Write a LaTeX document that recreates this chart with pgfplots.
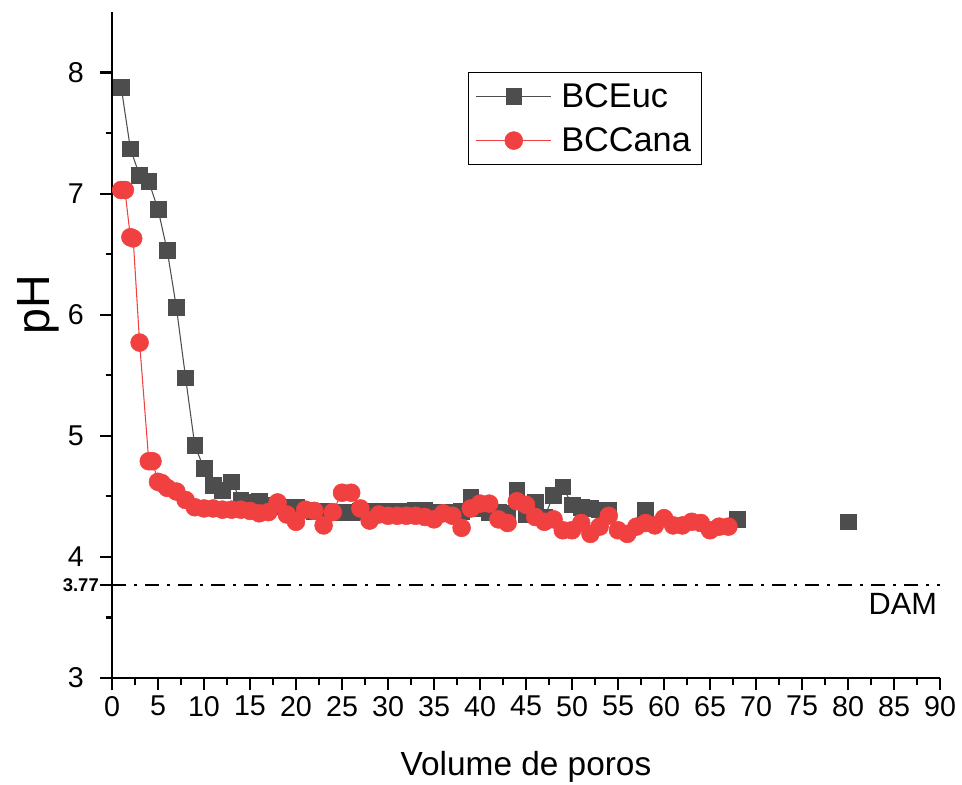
\documentclass[border=0pt]{standalone}
\usepackage{fontspec}
\setmainfont{Liberation Sans}
\usepackage{pgfplots}
\pgfplotsset{compat=1.18}
\definecolor{eucgray}{HTML}{4D4D4D}
\definecolor{canared}{HTML}{F04040}

\begin{document}
\begin{tikzpicture}
\begin{axis}[
    scale only axis,
    width=16.56cm, height=13.32cm,
    xmin=0, xmax=90, ymin=3, ymax=8.5,
    axis x line=bottom, axis y line=left,
    axis line style={-, line width=1.6pt},
    xtick distance=5, minor x tick num=1,
    ytick={3,4,5,6,7,8}, minor y tick num=1,
    extra y ticks={3.77}, extra y tick labels={3.77},
    tick align=outside,
    major tick length=0.24cm, minor tick length=0.13cm,
    tick style={black, line width=1.2pt},
    ticklabel style={font=\fontsize{16.3}{19}\selectfont},
    yticklabel style={inner xsep=9pt},
    extra y tick style={minor y tick num=0,
        yticklabel style={font=\bfseries\fontsize{10.5}{12}\selectfont, inner xsep=0.5pt}},
    /pgf/number format/assume math mode=true,
    unbounded coords=jump,
    xlabel={Volume de poros},
    ylabel={pH},
    xlabel style={font=\fontsize{19}{22}\selectfont, at={(rel axis cs:0.5,-0.134)}, anchor=center},
    ylabel style={font=\fontsize{26.5}{30}\selectfont, at={(rel axis cs:-0.0894,0.56)}, anchor=center},
    legend style={at={(rel axis cs:0.43,0.91)}, anchor=north west,
        draw=black, line width=0.8pt,
        font=\fontsize{19.5}{23}\selectfont,
        inner xsep=4pt, inner ysep=4pt, row sep=6pt},
    legend cell align=left,
    legend image code/.code={
        \draw[mark repeat=2, mark phase=2]
        plot coordinates {(0cm,0cm) (0.75cm,0cm) (1.5cm,0cm)};},
]
\addplot[eucgray, line width=0.6pt, mark=square*, mark size=4.5pt,
    mark options={fill=eucgray, draw=eucgray, line width=0.3pt}] coordinates {
(1,7.88) (2,7.37) (3,7.15) (4,7.10) (5,6.87) (6,6.53) (7,6.06) (8,5.48)
(9,4.92) (10,4.73) (11,4.59) (12,4.55) (13,4.62) (14,4.47) (15,4.45)
(16,4.46) (17,4.43) (18,4.42) (19,4.41) (20,4.41) (21,4.39) (22,4.38)
(23,4.38) (24,4.37) (25,4.37) (26,4.37) (27,4.38) (28,4.38) (29,4.38)
(30,4.38) (31,4.38) (32,4.38) (33,4.39) (34,4.39) (35,4.37) (36,4.36)
(37,4.37) (38,4.38) (39,4.49) (40,4.40) (41,4.37) (42,4.37) (43,4.36)
(44,4.55) (45,4.35) (46,4.45) (47,4.33) (48,4.51) (49,4.58) (50,4.43)
(51,4.41) (52,4.40) (53,4.39) (54,4.39) (56,nan) (58,4.39) (63,nan)
(68,4.31) (74,nan) (80,4.29)
};
\addlegendentry{\hspace{0.12cm}BCEuc\hspace{0.2cm}}
\addplot[canared, line width=0.6pt, mark=*, mark size=5.1pt,
    mark options={fill=canared, draw=canared, line width=0.3pt}] coordinates {
(1,7.03) (1.4,7.03) (2,6.64) (2.3,6.63) (3,5.77) (4,4.79) (4.4,4.79)
(5,4.62) (5.4,4.61) (6,4.57) (7,4.54) (8,4.47) (9,4.41) (10,4.40)
(11,4.40) (12,4.39) (13,4.39) (14,4.39) (15,4.38) (16,4.36) (17,4.37)
(18,4.45) (19,4.35) (20,4.29) (21,4.39) (22,4.38) (23,4.26) (24,4.37)
(25,4.53) (26,4.53) (27,4.40) (28,4.30) (29,4.35) (30,4.34) (31,4.34)
(32,4.34) (33,4.34) (34,4.33) (35,4.31) (36,4.36) (37,4.34) (38,4.24)
(39,4.40) (40,4.44) (41,4.44) (42,4.31) (43,4.28) (44,4.46) (45,4.43)
(46,4.33) (47,4.29) (48,4.31) (49,4.22) (50,4.22) (51,4.28) (52,4.19)
(53,4.25) (54,4.34) (55,4.22) (56,4.19) (57,4.25) (58,4.28) (59,4.26)
(60,4.32) (61,4.26) (62,4.26) (63,4.29) (64,4.28) (65,4.22) (66,4.25)
(67,4.25)
};
\addlegendentry{\hspace{0.12cm}BCCana\hspace{0.2cm}}
\addplot[black, line width=1.1pt, forget plot,
    dash pattern=on 0.28cm off 0.16cm on 0.06cm off 0.16cm] coordinates {(0,3.77) (90,3.77)};
\node[anchor=east, inner sep=0pt, font=\fontsize{17.5}{20}\selectfont] at (axis cs:89.7,3.612) {DAM};
\coordinate (bbsw) at (rel axis cs:-0.13527,-0.15916);
\coordinate (bbne) at (rel axis cs:1.02657,1.01802);
\end{axis}
\pgfresetboundingbox
\useasboundingbox (bbsw) rectangle (bbne);
\end{tikzpicture}
\end{document}
